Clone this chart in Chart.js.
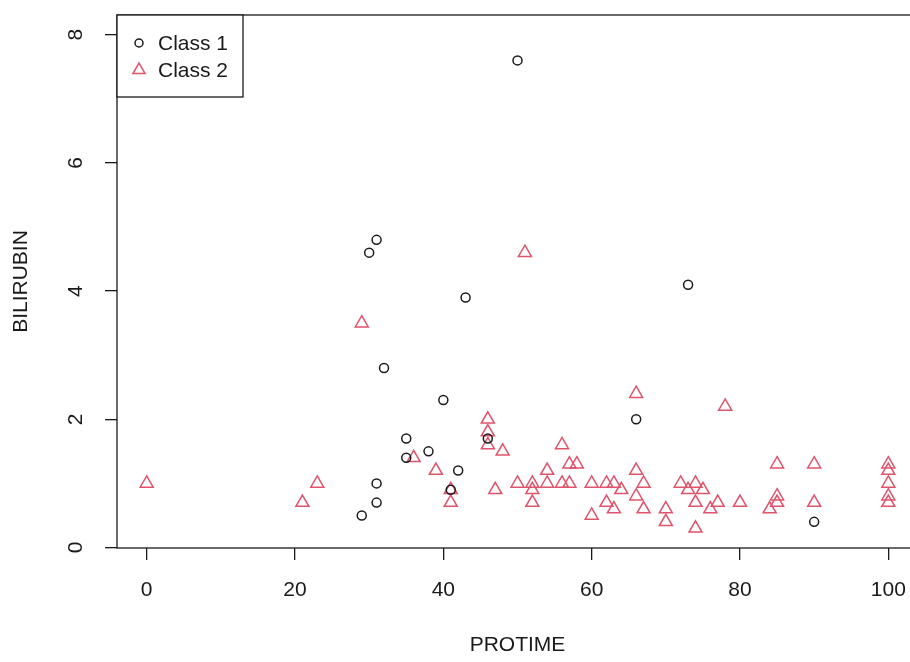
<!DOCTYPE html>
<html>
<head>
<meta charset="utf-8">
<script src="https://cdn.jsdelivr.net/npm/chart.js@4.4.1/dist/chart.umd.min.js"></script>
<style>
  html, body { margin: 0; padding: 0; background: #fff; overflow: hidden; }
  canvas { display: block; }
</style>
</head>
<body>
<canvas id="myChart" width="918" height="662"></canvas>
<script>
const class1Protime = [50, 31, 30, 43, 73, 32, 40, 66, 35, 46, 38, 35, 42, 31, 41, 31, 29, 90];
const class1Bilirubin = [7.6, 4.8, 4.6, 3.9, 4.1, 2.8, 2.3, 2.0, 1.7, 1.7, 1.5, 1.4, 1.2, 1.0, 0.9, 0.7, 0.5, 0.4];

const class2Protime = [0, 21, 23, 29, 36, 39, 41, 41, 46, 46, 46, 48, 47, 50, 51, 52, 52, 52, 54, 54,
  56, 56, 57, 57, 58, 60, 60, 62, 62, 63, 63, 64, 66, 66, 66, 67, 67, 70, 70, 72,
  73, 74, 74, 74, 75, 76, 77, 78, 80, 84, 85, 85, 85, 90, 90, 100, 100, 100, 100, 100];
const class2Bilirubin = [1.0, 0.7, 1.0, 3.5, 1.4, 1.2, 0.9, 0.7, 2.0, 1.8, 1.6, 1.5, 0.9, 1.0, 4.6, 1.0, 0.9, 0.7, 1.2, 1.0,
  1.6, 1.0, 1.3, 1.0, 1.3, 1.0, 0.5, 1.0, 0.7, 1.0, 0.6, 0.9, 2.4, 1.2, 0.8, 1.0, 0.6, 0.6, 0.4, 1.0,
  0.9, 1.0, 0.7, 0.3, 0.9, 0.6, 0.7, 2.2, 0.7, 0.6, 1.3, 0.8, 0.7, 1.3, 0.7, 1.3, 1.2, 1.0, 0.8, 0.7];

const xTicks = [0, 20, 40, 60, 80, 100];
const yTicks = [0, 2, 4, 6, 8];

const fontFamily = '"Liberation Sans", Arial, sans-serif';
const textColor = '#1a1a1a';

function toPoints(xs, ys) {
    return xs.map((x, i) => ({ x: x, y: ys[i] }));
}

// plot frame + R-style legend box in the top left corner
const frameAndLegend = {
    id: 'frameAndLegend',
    afterDatasetsDraw(chart) {
        const c = chart.ctx;
        const a = chart.chartArea;
        c.save();
        c.strokeStyle = '#1a1a1a';
        c.lineWidth = 1.3;
        c.strokeRect(a.left, a.top, a.right - a.left, a.bottom - a.top);

        const w = 126, h = 82;
        c.fillStyle = '#fff';
        c.fillRect(a.left, a.top, w, h);
        c.strokeRect(a.left, a.top, w, h);

        c.font = '21px ' + fontFamily;
        c.textBaseline = 'middle';
        chart.data.datasets.forEach((ds, i) => {
            const y = a.top + 29 + i * 27;
            c.strokeStyle = ds.borderColor;
            c.fillStyle = 'rgba(0,0,0,0)';
            c.lineWidth = ds.borderWidth;
            Chart.helpers.drawPoint(c, {
                pointStyle: ds.pointStyle,
                radius: ds.legendRadius,
                rotation: 0,
                borderWidth: ds.borderWidth
            }, a.left + 22, y - 1);
            c.fillStyle = textColor;
            c.fillText(ds.label, a.left + 41, y);
        });
        c.restore();
    }
};

new Chart(document.getElementById('myChart'), {
    type: 'scatter',
    data: {
        datasets: [{
            label: 'Class 1',
            data: toPoints(class1Protime, class1Bilirubin),
            pointStyle: 'circle',
            pointRadius: 4.5,
            legendRadius: 4,
            borderWidth: 1.5,
            borderColor: '#1a1a1a',
            backgroundColor: 'rgba(0,0,0,0)'
        }, {
            label: 'Class 2',
            data: toPoints(class2Protime, class2Bilirubin),
            pointStyle: 'triangle',
            pointRadius: 7.5,
            legendRadius: 7,
            borderWidth: 1.5,
            borderColor: '#DF536B',
            backgroundColor: 'rgba(0,0,0,0)'
        }]
    },
    options: {
        responsive: false,
        animation: false,
        layout: { autoPadding: false, padding: { top: 15, right: 0, bottom: 0, left: 0 } },
        plugins: {
            legend: { display: false },
            tooltip: { enabled: false }
        },
        scales: {
            x: {
                type: 'linear',
                min: -4,
                max: 104,
                afterBuildTicks: s => { s.ticks = xTicks.map(v => ({ value: v })); },
                afterFit: s => { s.height = 114; s.paddingLeft = 0; s.paddingRight = 0; },
                grid: { drawOnChartArea: false, drawTicks: true, tickLength: 12, color: '#1a1a1a', lineWidth: 1.3 },
                border: { display: false },
                ticks: { color: textColor, font: { size: 21, family: fontFamily }, padding: 18, maxRotation: 0 },
                title: {
                    display: true, text: 'PROTIME', color: textColor,
                    font: { size: 21, family: fontFamily },
                    padding: { top: 0, bottom: 4 }
                }
            },
            y: {
                type: 'linear',
                min: -0.008,
                max: 8.308,
                afterBuildTicks: s => { s.ticks = yTicks.map(v => ({ value: v })); },
                afterFit: s => { s.width = 117; s.paddingTop = 0; s.paddingBottom = 0; },
                grid: { drawOnChartArea: false, drawTicks: true, tickLength: 12, color: '#1a1a1a', lineWidth: 1.3 },
                border: { display: false },
                ticks: {
                    color: textColor, font: { size: 21, family: fontFamily },
                    minRotation: 90, maxRotation: 90, crossAlign: 'center', padding: 23
                },
                title: {
                    display: true, text: 'BILIRUBIN', color: textColor,
                    font: { size: 21, family: fontFamily },
                    padding: { top: 9, bottom: 0 }
                }
            }
        }
    },
    plugins: [frameAndLegend]
});
</script>
</body>
</html>
